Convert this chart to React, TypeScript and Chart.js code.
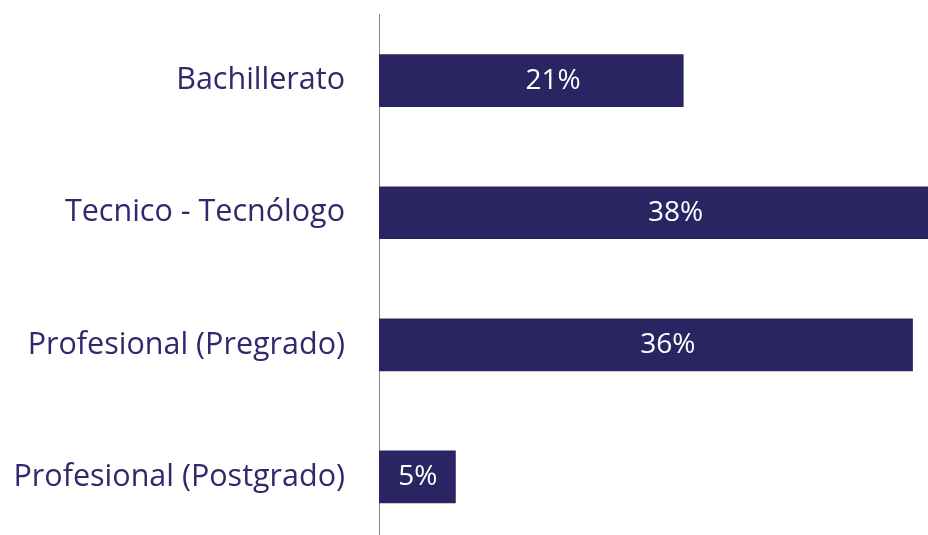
import React, { useEffect, useRef } from "react";
import { Chart, registerables } from "chart.js";

Chart.register(...registerables);

const categories = [
  "Bachillerato",
  "Tecnico - Tecnólogo",
  "Profesional (Pregrado)",
  "Profesional (Postgrado)",
];
const values = [20.7, 37.8, 36.3, 5.2];
const valueLabels = ["21%", "38%", "36%", "5%"];

const BAR_COLOR = "#2a2562";
const TEXT_COLOR = "#2e2a6b";
const FONT = "'Open Sans', 'Noto Sans', sans-serif";

const barLabels = {
  id: "barLabels",
  afterDatasetsDraw(chart: any) {
    const ctx = chart.ctx;
    const meta = chart.getDatasetMeta(0);
    ctx.save();
    ctx.fillStyle = "#ffffff";
    ctx.font = `28px ${FONT}`;
    ctx.textAlign = "center";
    ctx.textBaseline = "alphabetic";
    meta.data.forEach((bar: any, i: number) => {
      const right = Math.min(bar.x, chart.chartArea.right);
      const w = right - bar.base;
      const tw = ctx.measureText(valueLabels[i]).width;
      const shift = Math.min(22, Math.max(0, (w - tw) / 2 - 18));
      const cx = (bar.base + right) / 2 + shift;
      ctx.fillText(valueLabels[i], cx, bar.y + 8);
    });
    ctx.restore();
  },
};

export default function App() {
  const ref = useRef<HTMLCanvasElement>(null);
  useEffect(() => {
    if (!ref.current) return;
    const chart = new Chart(ref.current, {
      type: "bar",
      data: {
        labels: categories,
        datasets: [
          {
            data: values,
            backgroundColor: BAR_COLOR,
            barThickness: 52,
          },
        ],
      },
      options: {
        indexAxis: "y",
        animation: false,
        responsive: false,
        layout: { padding: { top: 6.6, bottom: 0, left: 0, right: 0 } },
        plugins: { legend: { display: false }, tooltip: { enabled: false } },
        scales: {
          x: {
            display: false,
            min: 0,
            max: 37.35,
          },
          y: {
            afterFit: (s: any) => {
              s.width = 371;
              s.paddingTop = 0;
              s.paddingBottom = 0;
            },
            grid: { display: false, drawTicks: false },
            border: { display: true, color: "#8a8a8a", width: 1 },
            ticks: {
              padding: 34,
              color: TEXT_COLOR,
              font: { family: FONT, size: 30.5 },
            },
          },
        },
      },
      plugins: [barLabels],
    });
    return () => chart.destroy();
  }, []);
  return (
    <canvas
      ref={ref}
      width={920}
      height={535}
      style={{ display: "block", position: "fixed", left: 8, top: 8 }}
    />
  );
}
